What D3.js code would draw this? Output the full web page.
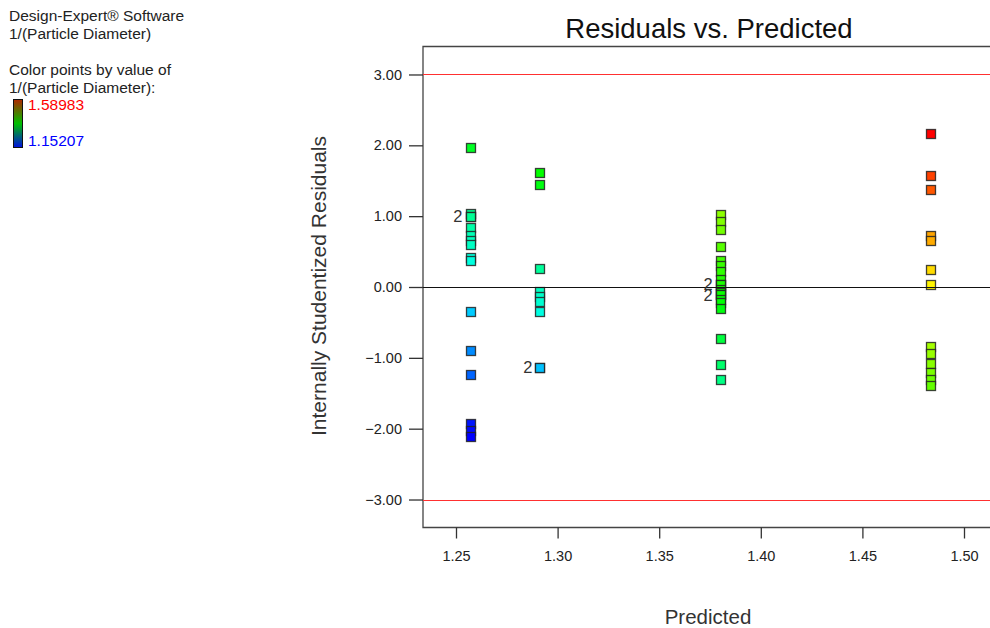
<!DOCTYPE html>
<html>
<head>
<meta charset="utf-8">
<script src="https://cdn.jsdelivr.net/npm/d3@7"></script>
<style>
  html, body { margin: 0; padding: 0; background: #fff; }
  svg { display: block; font-family: Arial, "Liberation Sans", sans-serif; }
</style>
</head>
<body>
<svg id="chart" width="990" height="628"></svg>
<script>
// ---- data ----
const predicted = [1.2569, 1.2913, 1.3800, 1.4833];
const residuals = [
  [1.97, 1.04, 1.00, 1.00, 0.84, 0.72, 0.65, 0.60, 0.41, 0.37, -0.35, -0.90, -1.24, -1.92, -2.02, -2.11],
  [1.61, 1.45, 0.26, -0.06, -0.14, -0.21, -0.35, -1.13, -1.13],
  [1.03, 0.92, 0.81, 0.57, 0.38, 0.30, 0.22, 0.11, 0.04, 0.04, -0.03, -0.08, -0.11, -0.11, -0.17, -0.22, -0.30, -0.72, -1.10, -1.31],
  [2.17, 1.57, 1.38, 0.72, 0.66, 0.25, 0.03, -0.84, -0.94, -1.08, -1.20, -1.31, -1.39]
];
// response value 1/(Particle Diameter) used for colouring
const responses = [
  [1.3554, 1.3089, 1.3069, 1.3069, 1.2989, 1.2929, 1.2894, 1.2869, 1.2774, 1.2754, 1.2394, 1.2119, 1.1949, 1.1609, 1.1559, 1.1521],
  [1.3718, 1.3638, 1.3043, 1.2883, 1.2843, 1.2808, 1.2738, 1.2348, 1.2348],
  [1.4315, 1.4260, 1.4205, 1.4085, 1.3990, 1.3950, 1.3910, 1.3855, 1.3820, 1.3820, 1.3785, 1.3760, 1.3745, 1.3745, 1.3715, 1.3690, 1.3650, 1.3440, 1.3250, 1.3145],
  [1.5898, 1.5618, 1.5523, 1.5193, 1.5163, 1.4958, 1.4848, 1.4413, 1.4363, 1.4293, 1.4233, 1.4178, 1.4138]
];
const repeatLabels = [
  {col: 0, resid: 1.00, n: 2},
  {col: 1, resid: -1.13, n: 2},
  {col: 2, resid: 0.04, n: 2},
  {col: 2, resid: -0.11, n: 2}
];
const xTicks = [1.25, 1.30, 1.35, 1.40, 1.45, 1.50];
const yTicks = [3, 2, 1, 0, -1, -2, -3];
const limitLines = [3, -3];
const colorMin = 1.15207, colorMax = 1.58983;

// ---- layout ----
const svg = d3.select("#chart");
const pL = 423, pT = 46.5, pR = 1000, pB = 527.5;
const x = d3.scaleLinear().domain([1.25, 1.50]).range([456, 964]);
const y = d3.scaleLinear().domain([-3.395, 3.395]).range([pB, pT]);

const jet = d3.scaleLinear()
  .domain([0, 0.25, 0.5, 0.75, 1])
  .range(["#0000ff", "#00ffff", "#00ff00", "#ffff00", "#ff0000"])
  .clamp(true);
const colorOf = v => jet((v - colorMin) / (colorMax - colorMin));

// legend text
const lg = svg.append("g").attr("font-size", 15.5).attr("fill", "#222");
lg.append("text").attr("x", 9).attr("y", 21).text("Design-Expert\u00AE Software");
lg.append("text").attr("x", 9).attr("y", 39).text("1/(Particle Diameter)");
lg.append("text").attr("x", 9).attr("y", 75).text("Color points by value of");
lg.append("text").attr("x", 9).attr("y", 93).text("1/(Particle Diameter):");

const defs = svg.append("defs");
const grad = defs.append("linearGradient").attr("id", "lgrad").attr("x1", 0).attr("y1", 0).attr("x2", 0).attr("y2", 1);
[[0, "#b02800"], [0.5, "#00c000"], [1, "#0010e0"]].forEach(s =>
  grad.append("stop").attr("offset", s[0]).attr("stop-color", s[1]));
svg.append("rect").attr("x", 13.5).attr("y", 99.5).attr("width", 9).attr("height", 48)
  .attr("fill", "url(#lgrad)").attr("stroke", "#111").attr("stroke-width", 1);
svg.append("text").attr("x", 28).attr("y", 110).attr("font-size", 15.5).attr("fill", "#ff0000").text(colorMax.toFixed(5));
svg.append("text").attr("x", 28).attr("y", 146).attr("font-size", 15.5).attr("fill", "#0000ff").text(colorMin.toFixed(5));

// title
svg.append("text").attr("x", 709).attr("y", 38).attr("text-anchor", "middle")
  .attr("font-size", 27.5).attr("fill", "#111").text("Residuals vs. Predicted");

// frame
svg.append("path")
  .attr("d", `M${pR},${pT}H${pL}V${pB}H${pR}`)
  .attr("fill", "none").attr("stroke", "#444").attr("stroke-width", 1.3);

// y axis
const yAxis = d3.axisLeft(y).tickValues(yTicks).tickSize(14).tickPadding(7).tickFormat(d3.format(".2f"));
const gy = svg.append("g").attr("transform", `translate(${pL},0)`).call(yAxis);
gy.select(".domain").remove();
gy.selectAll(".tick line").attr("stroke", "#333").attr("stroke-width", 1.3);
gy.selectAll(".tick text").attr("font-size", 14.5).attr("fill", "#222").attr("font-family", "Arial, 'Liberation Sans', sans-serif");

// x axis
const xAxis = d3.axisBottom(x).tickValues(xTicks).tickSize(11).tickPadding(12).tickFormat(d3.format(".2f"));
const gx = svg.append("g").attr("transform", `translate(0,${pB})`).call(xAxis);
gx.select(".domain").remove();
gx.selectAll(".tick line").attr("stroke", "#333").attr("stroke-width", 1.3);
gx.selectAll(".tick text").attr("font-size", 14.5).attr("fill", "#222").attr("font-family", "Arial, 'Liberation Sans', sans-serif");

// axis titles
svg.append("text").attr("transform", `translate(326,286) rotate(-90)`).attr("text-anchor", "middle")
  .attr("font-size", 21).attr("fill", "#333").text("Internally Studentized Residuals");
svg.append("text").attr("x", 708).attr("y", 624).attr("text-anchor", "middle")
  .attr("font-size", 20.5).attr("fill", "#333").text("Predicted");

// limit lines
svg.selectAll("line.limit").data(limitLines).enter().append("line")
  .attr("x1", pL).attr("x2", pR).attr("y1", d => Math.round(y(d)) + 0.5).attr("y2", d => Math.round(y(d)) + 0.5)
  .attr("stroke", "#ff3030").attr("stroke-width", 1.2);

// points
const pts = [];
residuals.forEach((col, i) => col.forEach((r, j) => pts.push({p: predicted[i], r: r, v: responses[i][j]})));
const sz = 9;
svg.selectAll("rect.pt").data(pts).enter().append("rect")
  .attr("x", d => Math.round(x(d.p) - sz / 2) + 0.5)
  .attr("y", d => Math.round(y(d.r) - sz / 2) + 0.5)
  .attr("width", sz).attr("height", sz)
  .attr("fill", d => colorOf(d.v))
  .attr("stroke", "#222").attr("stroke-width", 1.3).attr("stroke-opacity", 0.85);

// zero line
svg.append("line").attr("x1", pL).attr("x2", pR)
  .attr("y1", Math.round(y(0)) + 0.5).attr("y2", Math.round(y(0)) + 0.5)
  .attr("stroke", "#111").attr("stroke-width", 1.2);

// repeat count labels
svg.selectAll("text.rep").data(repeatLabels).enter().append("text")
  .attr("x", d => x(predicted[d.col]) - sz / 2 - 3)
  .attr("y", d => y(d.resid) + 6)
  .attr("text-anchor", "end").attr("font-size", 16.5).attr("fill", "#333")
  .text(d => d.n);
</script>
</body>
</html>
